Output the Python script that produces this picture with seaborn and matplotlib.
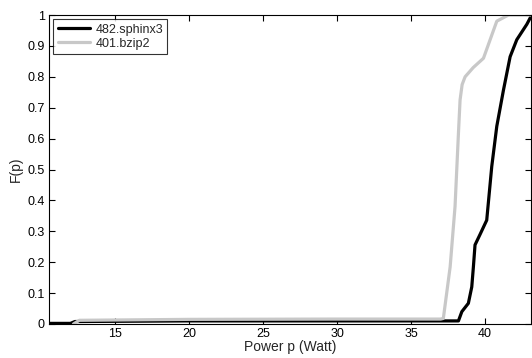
import matplotlib
matplotlib.use("Agg")
import matplotlib.pyplot as plt
import seaborn as sns
import pandas as pd

sns.set_theme(style="white")
plt.rcParams['font.family'] = ['Liberation Sans', 'DejaVu Sans']

# 482.sphinx3 CDF
sphinx_p = [10.5, 12.0, 12.3, 20.0, 30.0, 38.2, 38.43, 38.87, 39.1, 39.21, 39.32, 39.66, 40.11,
            40.45, 40.79, 41.24, 41.69, 42.14, 42.82, 43.15]
sphinx_F = [0.002, 0.002, 0.008, 0.01, 0.01, 0.01, 0.04, 0.067, 0.12, 0.185, 0.256, 0.29, 0.336,
            0.51, 0.64, 0.757, 0.865, 0.92, 0.97, 1.0]
# 401.bzip2 CDF
bzip_p = [12.2, 12.6, 20.0, 30.0, 37.0, 37.18, 37.64, 37.97, 38.2, 38.31, 38.45, 38.65, 39.2,
          39.89, 40.79, 41.58, 43.15]
bzip_F = [0.0, 0.012, 0.015, 0.016, 0.016, 0.018, 0.185, 0.38, 0.617, 0.725, 0.775, 0.80, 0.83,
          0.86, 0.98, 1.0, 1.0]

labels = ["482.sphinx3", "401.bzip2"]
colors = ["#000000", "#c8c8c8"]

df = pd.concat([
    pd.DataFrame({"p": sphinx_p, "F": sphinx_F, "bench": labels[0]}),
    pd.DataFrame({"p": bzip_p, "F": bzip_F, "bench": labels[1]}),
], ignore_index=True)

fig = plt.figure(figsize=(5.32, 3.58), dpi=100)
ax = fig.add_axes([49/532, 34/358, 482/532, 309/358])
sns.lineplot(data=df, x="p", y="F", hue="bench", palette=colors, sort=False,
             estimator=None, linewidth=2.3, ax=ax)

ax.set_xlim(10.55, 43.1)
ax.set_ylim(0, 1)
ax.set_xticks([15, 20, 25, 30, 35, 40])
ax.set_yticks([0, 0.1, 0.2, 0.3, 0.4, 0.5, 0.6, 0.7, 0.8, 0.9, 1])
ax.set_yticklabels(["0", "0.1", "0.2", "0.3", "0.4", "0.5", "0.6", "0.7", "0.8", "0.9", "1"])
ax.tick_params(direction="in", length=4, width=0.8, labelsize=9, top=True, right=True,
               bottom=True, left=True, colors="black", pad=3)
for s in ax.spines.values():
    s.set_color("black")
    s.set_linewidth(0.8)
ax.set_xlabel("Power p (Watt)", fontsize=10, labelpad=0)
ax.set_ylabel("F(p)", fontsize=10, labelpad=3)
leg = ax.legend(loc="upper left", fontsize=9, frameon=True, fancybox=False,
                edgecolor="black", borderaxespad=0.35, handlelength=2.6,
                borderpad=0.35, labelspacing=0.15, handletextpad=0.4, title=None)
leg.get_frame().set_linewidth(0.8)
fig.savefig("out.png", dpi=100)
